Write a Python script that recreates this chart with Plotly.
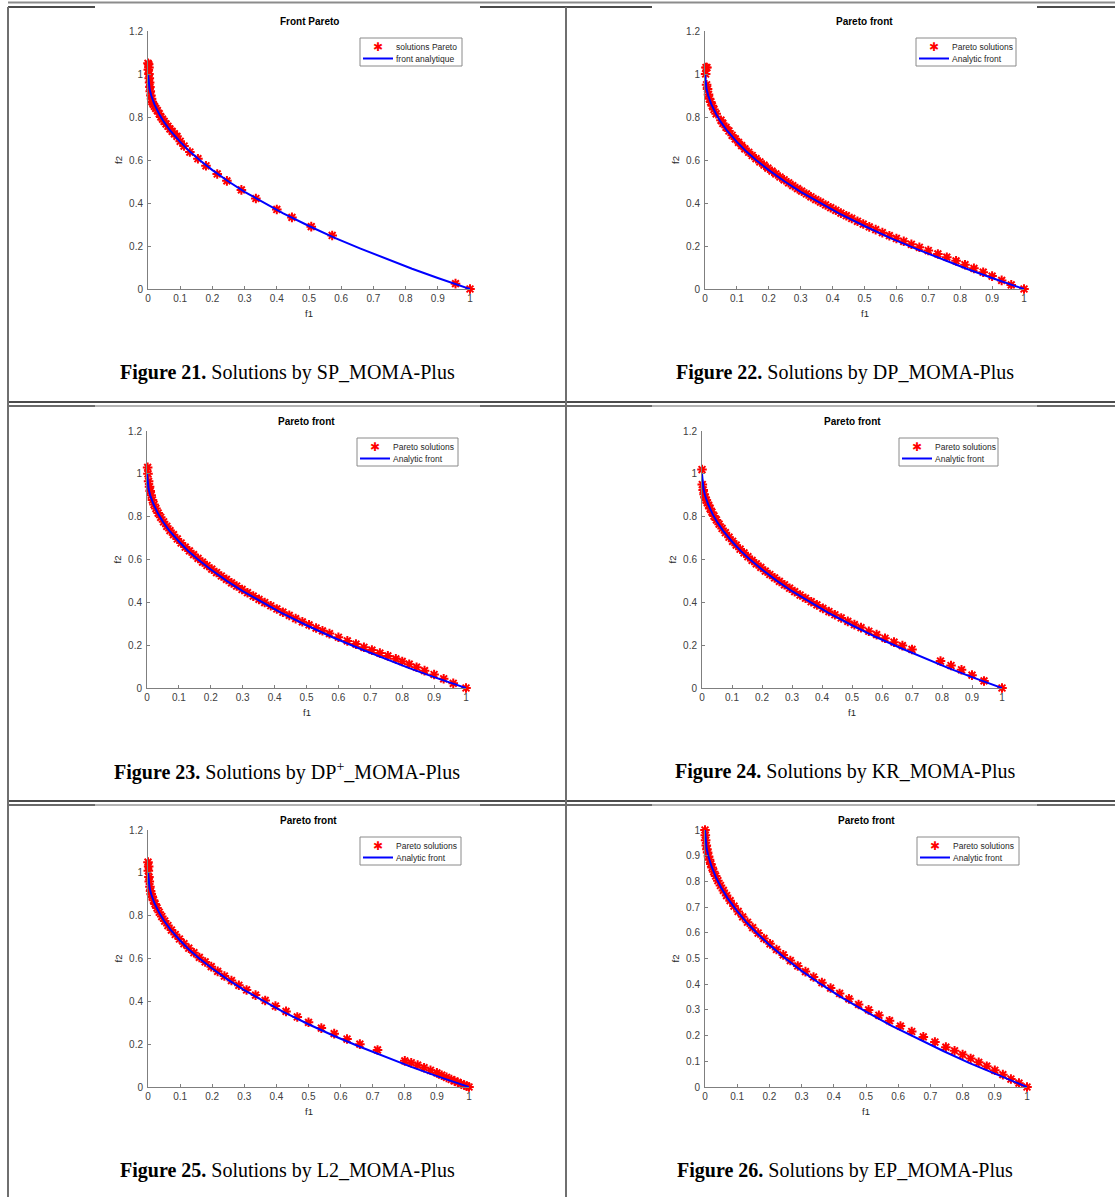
import plotly.graph_objects as go

W, H = 1115, 1197

# ---------------- data ----------------
# analytic front (shared by all panels)
AF_F1 = [0, 0.002, 0.005, 0.01, 0.02, 0.035, 0.05, 0.07, 0.1, 0.13, 0.16, 0.2, 0.25, 0.3, 0.36,
         0.42, 0.5, 0.58, 0.66, 0.74, 0.82, 0.9, 0.96, 1.0]
AF_F2 = [1.0, 0.955, 0.929, 0.9, 0.859, 0.813, 0.776, 0.735, 0.684, 0.639, 0.6, 0.553, 0.5, 0.452, 0.4,
         0.352, 0.293, 0.238, 0.188, 0.140, 0.094, 0.051, 0.020, 0.0]

SP_F1 = [0.000, 0.002, 0.003, 0.001, 0.003, 0.004, 0.005, 0.006, 0.007, 0.009, 0.011, 0.013, 0.016, 0.020,
         0.024, 0.029, 0.035, 0.040, 0.045, 0.050, 0.056, 0.062, 0.068, 0.075, 0.082, 0.090, 0.100, 0.112,
         0.130, 0.155, 0.180, 0.215, 0.245, 0.290, 0.335, 0.400, 0.447, 0.507, 0.572, 0.955, 1.000]
SP_F2 = [1.050, 1.045, 1.030, 1.020, 1.000, 0.980, 0.960, 0.940, 0.920, 0.900, 0.885, 0.870, 0.860, 0.850,
         0.840, 0.830, 0.815, 0.800, 0.790, 0.780, 0.768, 0.757, 0.745, 0.733, 0.722, 0.710, 0.687, 0.665,
         0.637, 0.606, 0.573, 0.535, 0.503, 0.461, 0.421, 0.370, 0.333, 0.290, 0.249, 0.025, 0.000]

DP_F1 = [0.003, 0.006, 0.002, 0.005, 0.008, 0.011, 0.014, 0.018, 0.023, 0.028, 0.035, 0.05, 0.056, 0.066,
         0.075, 0.085, 0.095, 0.105, 0.115, 0.125, 0.137, 0.148, 0.16, 0.172, 0.185, 0.197, 0.21, 0.222,
         0.235, 0.248, 0.262, 0.275, 0.29, 0.303, 0.318, 0.332, 0.347, 0.362, 0.378, 0.394, 0.41, 0.426,
         0.443, 0.46, 0.478, 0.496, 0.515, 0.535, 0.556, 0.578, 0.6, 0.623, 0.647, 0.672, 0.7, 0.73,
         0.758, 0.787, 0.815, 0.843, 0.872, 0.9, 0.93, 0.96, 1.0]
DP_F2 = [1.03, 1.03, 1.0, 0.95, 0.93, 0.905, 0.885, 0.87, 0.852, 0.835, 0.815, 0.785, 0.77, 0.752,
         0.735, 0.715, 0.698, 0.682, 0.667, 0.652, 0.636, 0.621, 0.606, 0.591, 0.576, 0.562, 0.548, 0.535,
         0.521, 0.508, 0.494, 0.481, 0.467, 0.455, 0.442, 0.429, 0.416, 0.404, 0.391, 0.378, 0.366, 0.353,
         0.341, 0.328, 0.315, 0.302, 0.289, 0.276, 0.262, 0.248, 0.235, 0.222, 0.208, 0.194, 0.179, 0.163,
         0.148, 0.131, 0.113, 0.096, 0.078, 0.060, 0.040, 0.019, 0.0]

DPP_F1 = [0.002, 0.003, 0.005, 0.008, 0.010, 0.013, 0.017, 0.022, 0.028, 0.035, 0.043, 0.052, 0.062, 0.072,
          0.083, 0.095, 0.107, 0.12, 0.133, 0.146, 0.16, 0.174, 0.188, 0.203, 0.218, 0.233, 0.249, 0.265,
          0.281, 0.298, 0.315, 0.333, 0.351, 0.369, 0.388, 0.407, 0.426, 0.446, 0.466, 0.487, 0.508, 0.53,
          0.55, 0.572, 0.6, 0.628, 0.655, 0.68, 0.705, 0.73, 0.755, 0.78, 0.8, 0.822, 0.845, 0.87, 0.9,
          0.93, 0.96, 1.0]
DPP_F2 = [1.03, 1.0, 0.965, 0.94, 0.92, 0.9, 0.878, 0.857, 0.838, 0.817, 0.797, 0.776, 0.755, 0.735,
          0.716, 0.696, 0.677, 0.658, 0.640, 0.623, 0.605, 0.588, 0.572, 0.555, 0.539, 0.523, 0.507, 0.491,
          0.476, 0.460, 0.445, 0.429, 0.414, 0.399, 0.384, 0.369, 0.354, 0.339, 0.324, 0.309, 0.295, 0.280,
          0.267, 0.254, 0.237, 0.220, 0.205, 0.190, 0.177, 0.163, 0.150, 0.136, 0.124, 0.111, 0.097, 0.081,
          0.063, 0.043, 0.022, 0.0]

KR_F1 = [0.000, 0.001, 0.004, 0.007, 0.010, 0.014, 0.018, 0.022, 0.027, 0.033, 0.040, 0.048, 0.057, 0.067,
         0.078, 0.090, 0.102, 0.114, 0.127, 0.140, 0.153, 0.167, 0.181, 0.196, 0.211, 0.226, 0.242, 0.258,
         0.275, 0.292, 0.309, 0.327, 0.345, 0.364, 0.383, 0.403, 0.423, 0.443, 0.464, 0.486, 0.508, 0.53,
         0.556, 0.582, 0.61, 0.64, 0.668, 0.7, 0.795, 0.83, 0.865, 0.9, 0.94, 1.0]
KR_F2 = [1.02, 0.95, 0.925, 0.905, 0.89, 0.877, 0.865, 0.853, 0.838, 0.821, 0.803, 0.785, 0.765, 0.745,
         0.725, 0.704, 0.685, 0.667, 0.648, 0.631, 0.613, 0.596, 0.580, 0.563, 0.546, 0.530, 0.514, 0.498,
         0.482, 0.466, 0.450, 0.434, 0.419, 0.403, 0.388, 0.372, 0.357, 0.342, 0.327, 0.311, 0.296, 0.282,
         0.265, 0.249, 0.232, 0.214, 0.198, 0.180, 0.126, 0.105, 0.085, 0.060, 0.033, 0.0]

L2_F1 = [0.000, 0.002, 0.001, 0.003, 0.004, 0.006, 0.008, 0.010, 0.013, 0.017, 0.022, 0.028, 0.035, 0.043,
         0.052, 0.062, 0.073, 0.085, 0.098, 0.112, 0.127, 0.143, 0.16, 0.178, 0.197, 0.217, 0.238, 0.26,
         0.283, 0.307, 0.335, 0.365, 0.397, 0.43, 0.465, 0.5, 0.54, 0.58, 0.62, 0.66, 0.715, 0.8, 0.82,
         0.84, 0.86, 0.88, 0.9, 0.915, 0.93, 0.945, 0.955, 0.965, 0.975, 0.985, 0.993, 1.0]
L2_F2 = [1.05, 1.03, 1.01, 0.98, 0.96, 0.935, 0.915, 0.9, 0.89, 0.872, 0.855, 0.836, 0.816, 0.796,
         0.775, 0.754, 0.733, 0.712, 0.691, 0.669, 0.648, 0.627, 0.605, 0.584, 0.562, 0.540, 0.518, 0.497,
         0.475, 0.453, 0.429, 0.404, 0.378, 0.353, 0.327, 0.302, 0.275, 0.249, 0.224, 0.2, 0.173, 0.122,
         0.113, 0.102, 0.09, 0.078, 0.066, 0.055, 0.045, 0.035, 0.028, 0.022, 0.015, 0.009, 0.004, 0.0]

EP_F1 = [0.000, 0.001, 0.002, 0.004, 0.006, 0.008, 0.011, 0.014, 0.018, 0.022, 0.027, 0.033, 0.04, 0.048,
         0.057, 0.067, 0.078, 0.09, 0.103, 0.117, 0.132, 0.148, 0.165, 0.183, 0.202, 0.222, 0.243, 0.265,
         0.288, 0.312, 0.337, 0.363, 0.39, 0.418, 0.447, 0.477, 0.508, 0.54, 0.573, 0.607, 0.642, 0.678,
         0.714, 0.748, 0.775, 0.8, 0.825, 0.85, 0.875, 0.9, 0.925, 0.95, 0.975, 1.0]
EP_F2 = [1.0, 0.98, 0.96, 0.94, 0.925, 0.912, 0.897, 0.884, 0.868, 0.854, 0.838, 0.821, 0.803, 0.784,
         0.765, 0.745, 0.725, 0.704, 0.683, 0.662, 0.641, 0.620, 0.599, 0.578, 0.557, 0.535, 0.514, 0.492,
         0.471, 0.449, 0.428, 0.406, 0.385, 0.364, 0.343, 0.321, 0.300, 0.279, 0.258, 0.237, 0.216, 0.195,
         0.175, 0.155, 0.141, 0.126, 0.111, 0.096, 0.081, 0.065, 0.048, 0.031, 0.015, 0.0]

TITLES = ["Front Pareto", "Pareto front", "Pareto front", "Pareto front", "Pareto front", "Pareto front"]
LEG_SOL = ["solutions Pareto", "Pareto solutions", "Pareto solutions", "Pareto solutions",
           "Pareto solutions", "Pareto solutions"]
LEG_FRONT = ["front analytique", "Analytic front", "Analytic front", "Analytic front",
             "Analytic front", "Analytic front"]
CAP_NUM = ["Figure 21.", "Figure 22.", "Figure 23.", "Figure 24.", "Figure 25.", "Figure 26."]
CAP_TXT = ["Solutions by SP_MOMA-Plus", "Solutions by DP_MOMA-Plus", "Solutions by DP<sup>+</sup>_MOMA-Plus",
           "Solutions by KR_MOMA-Plus", "Solutions by L2_MOMA-Plus", "Solutions by EP_MOMA-Plus"]
SERIES = [(SP_F1, SP_F2), (DP_F1, DP_F2), (DPP_F1, DPP_F2), (KR_F1, KR_F2), (L2_F1, L2_F2), (EP_F1, EP_F2)]
Y_MAX = [1.2, 1.2, 1.2, 1.2, 1.2, 1.0]
Y_DTICK = [0.2, 0.2, 0.2, 0.2, 0.2, 0.1]

# ---------------- layout geometry (pixels) ----------------
AXES_PX = [(148, 470, 31, 289), (705, 1024, 31, 289),
           (147, 466, 431, 688), (702, 1002, 431, 688),
           (148, 469, 830, 1087), (705, 1027, 830, 1087)]
LEG_PX = [(360, 38, 102), (916, 38, 100), (357, 438, 101), (899, 438, 99), (360, 837, 101), (917, 837, 102)]
CAP_PX = [(287, 372), (845, 372), (287, 771), (845, 771), (287, 1170), (845, 1170)]


def px(x):
    return x / W


def py(y):
    return 1 - y / H


fig = go.Figure()
annotations = []
shapes = []
layout = {}
SANS = "Liberation Sans, Arial, sans-serif"
SERIF = "Liberation Serif, Times New Roman, serif"


def note(x, y, text, size, color="black", family=SANS, xanchor="center", angle=0):
    annotations.append(dict(x=px(x), y=py(y), xref="paper", yref="paper", showarrow=False, text=text,
                            xanchor=xanchor, yanchor="middle", textangle=angle,
                            font=dict(family=family, size=size, color=color)))


def hline(y, xa, xb, color, w):
    shapes.append(dict(type="line", xref="paper", yref="paper", x0=px(xa), x1=px(xb), y0=py(y), y1=py(y),
                       line=dict(color=color, width=w)))


def vline(x, ya, yb, color, w):
    shapes.append(dict(type="line", xref="paper", yref="paper", x0=px(x), x1=px(x), y0=py(ya), y1=py(yb),
                       line=dict(color=color, width=w)))


for i in range(6):
    k = "" if i == 0 else str(i + 1)
    x0, x1, y0, y1 = AXES_PX[i]
    f1, f2 = SERIES[i]
    fig.add_trace(go.Scatter(
        x=f1, y=f2, mode="markers", name=LEG_SOL[i], xaxis="x" + k, yaxis="y" + k, showlegend=False,
        cliponaxis=False,
        marker=dict(symbol="asterisk", size=8, color="red", line=dict(color="red", width=2))))
    fig.add_trace(go.Scatter(
        x=AF_F1, y=AF_F2, mode="lines", name=LEG_FRONT[i], xaxis="x" + k, yaxis="y" + k, showlegend=False,
        cliponaxis=False, line=dict(color="#0000FF", width=2)))

    common = dict(showgrid=False, zeroline=False, showline=True, linecolor="#7f7f7f", linewidth=1,
                  ticks="inside", ticklen=3, tickcolor="#7f7f7f", automargin=False,
                  tickfont=dict(family=SANS, size=10, color="#404040"), fixedrange=True)
    layout["xaxis" + k] = dict(domain=[px(x0), px(x1)], range=[0, 1], dtick=0.1, tick0=0,
                               anchor="y" + k, **common)
    layout["yaxis" + k] = dict(domain=[py(y1), py(y0)], range=[0, Y_MAX[i]], dtick=Y_DTICK[i], tick0=0,
                               anchor="x" + k, ticklabelstandoff=2, **common)

    # legend box (drawn like the MATLAB legend)
    lx, ly, lw = LEG_PX[i]
    shapes.append(dict(type="rect", xref="paper", yref="paper", x0=px(lx), x1=px(lx + lw),
                       y0=py(ly + 28), y1=py(ly), line=dict(color="#8a8a8a", width=1), fillcolor="white"))
    note(lx + 18, ly + 8.5, "✱", 12, color="red")
    hline(ly + 20.5, lx + 3, lx + 33, "#0000FF", 2)
    note(lx + 34, ly + 8.5, LEG_SOL[i], 8.5, color="#262626", xanchor="left")
    note(lx + 34, ly + 20.5, LEG_FRONT[i], 8.5, color="#262626", xanchor="left")

    cx = (x0 + x1) / 2
    note(cx, y0 - 10, "<b>" + TITLES[i] + "</b>", 10)
    note(cx, y1 + 24, "f1", 9.5, color="#262626")
    note(x0 - 30, (y0 + y1) / 2, "f2", 9.5, color="#262626", angle=-90)
    cxp, cyp = CAP_PX[i]
    note(cxp, cyp, "<b>" + CAP_NUM[i] + "</b> " + CAP_TXT[i], 20, family=SERIF)

# ---------------- table borders ----------------
hline(2.5, 8, W, "#8c8c8c", 2)
for seg in [(8, 95), (480, 652), (1037, W)]:
    hline(7, seg[0], seg[1], "#111111", 1.5)
for yb in [402, 801]:
    hline(yb, 8, W, "#111111", 1.5)
    hline(yb + 4, 8, W, "#9a9a9a", 1.5)
    for seg in [(8, 95), (480, 652), (1037, W)]:
        hline(yb + 4, seg[0], seg[1], "#6a6a6a", 2)
vline(8, 7, H, "#6f6f6f", 2)
vline(566, 7, H, "#6f6f6f", 2)

layout.update(dict(width=W, height=H, margin=dict(l=0, r=0, t=0, b=0, autoexpand=False),
                   paper_bgcolor="white", plot_bgcolor="white", showlegend=False,
                   annotations=annotations, shapes=shapes))
fig.update_layout(**layout)
fig.write_html("out.html", config={"displayModeBar": False},
               post_script="document.body.style.margin='0';document.body.style.padding='0';"
                           "document.body.style.overflow='hidden';")
